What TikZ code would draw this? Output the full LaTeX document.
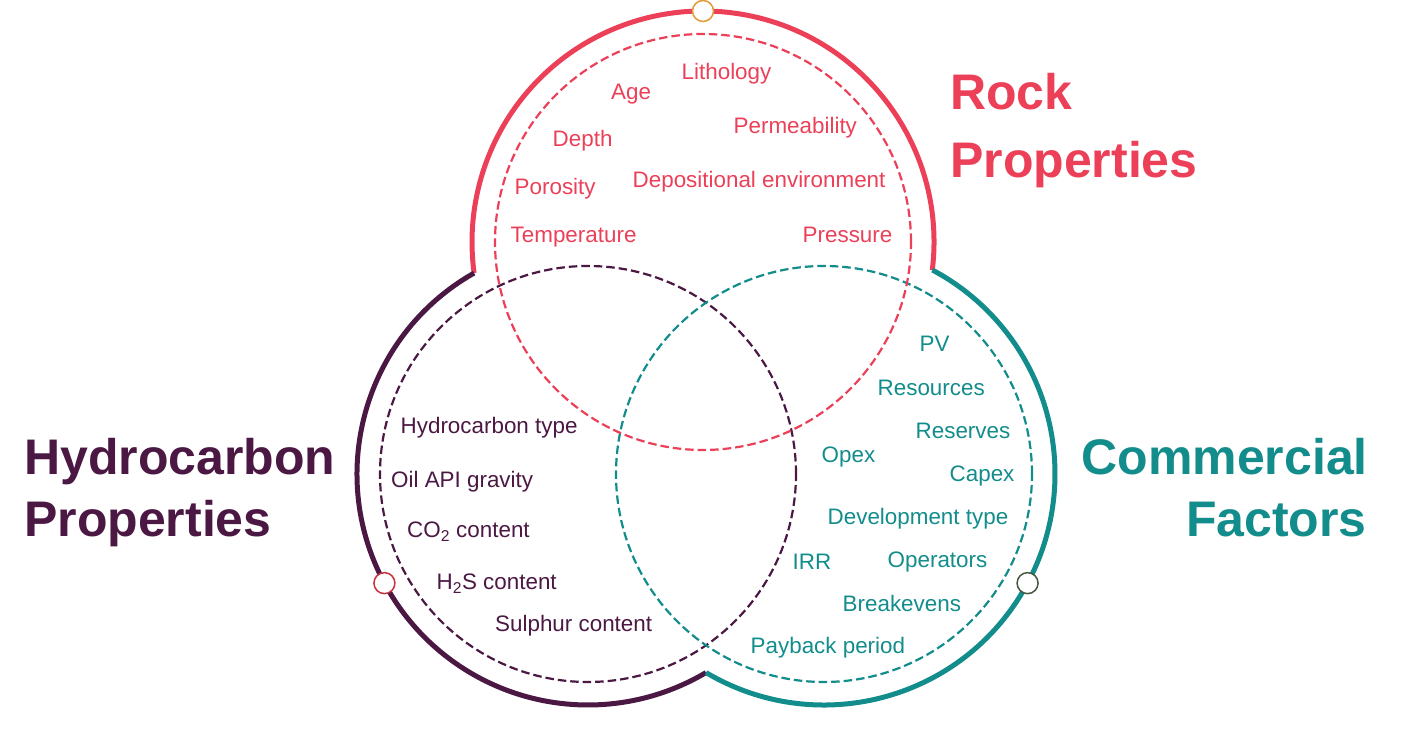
\documentclass[tikz,border=0pt]{standalone}
\usepackage{fontspec}
\setmainfont{Liberation Sans}
\definecolor{rockred}{HTML}{EC4059}
\definecolor{hcpurple}{HTML}{4B1843}
\definecolor{comteal}{HTML}{138C8C}
\definecolor{dotorange}{HTML}{E59A3A}
\definecolor{dotred}{HTML}{C8323C}
\definecolor{dotgreen}{HTML}{46583F}
\tikzset{
  outerring/.style={line width=5pt},
  dashring/.style={line width=2.2pt, dash pattern=on 8.5pt off 4pt},
  dotnode/.style={circle, minimum size=21pt, inner sep=0pt, fill=white, line width=1.5pt},
  lbl/.style={inner sep=0pt, anchor=base west, font=\fontsize{22.4}{27}\selectfont},
  ttl/.style={inner sep=0pt, font=\fontsize{50}{60}\selectfont\bfseries}
}
\begin{document}
\begin{tikzpicture}[x=1pt,y=1pt]
\useasboundingbox (0,0) rectangle (1424,738);
\coordinate (R) at (703,496);
\coordinate (P) at (588,264);
\coordinate (T) at (824,264);
% outer solid arcs
\draw[outerring, rockred] (R) ++(-7.0:231pt) arc[start angle=-7.0, end angle=187.7, radius=231pt];
\draw[outerring, hcpurple] (P) ++(119.55:231pt) arc[start angle=119.55, end angle=300.7, radius=231pt];
\draw[outerring, comteal] (T) ++(239.3:231pt) arc[start angle=239.3, end angle=422.0, radius=231pt];
% dashed inner circles
\draw[dashring, hcpurple] (P) circle[radius=208pt];
\draw[dashring, comteal] (T) circle[radius=208pt];
\draw[dashring, rockred] (R) circle[radius=208pt];
% small circles on the rings
\path (R) ++(90:231pt) node[dotnode, draw=dotorange] (dtop) {};
\path (P) ++(208.2:231pt) node[dotnode, draw=dotred] (dleft) {};
\path (T) ++(-28.2:231pt) node[dotnode, draw=dotgreen] (dright) {};
% titles
\node[ttl, anchor=base west, text=rockred] (t1a) at (950,628) {Rock};
\node[ttl, anchor=base west, text=rockred] (t1b) at (950,560) {Properties};
\node[ttl, anchor=base west, text=hcpurple] (t2a) at (24,263) {Hydrocarbon};
\node[ttl, anchor=base west, text=hcpurple] (t2b) at (24,201) {Properties};
\node[ttl, anchor=base east, text=comteal] (t3a) at (1368,263) {Commercial};
\node[ttl, anchor=base east, text=comteal] (t3b) at (1367,201) {Factors};
% rock labels
\begin{scope}[every node/.style={lbl, text=rockred}]
\node (r1) at (681.5,658) {Lithology};
\node (r2) at (611,638) {Age};
\node (r3) at (733.5,604) {Permeability};
\node (r4) at (552.5,591) {Depth};
\node (r5) at (632.5,550) {Depositional environment};
\node (r6) at (514.5,543) {Porosity};
\node (r7) at (510.5,495) {Temperature};
\node (r8) at (802.5,495) {Pressure};
\end{scope}
% hydrocarbon labels
\begin{scope}[every node/.style={lbl, text=hcpurple}]
\node (h1) at (400.5,304) {Hydrocarbon type};
\node (h2) at (391,250) {Oil API gravity};
\node (h3) at (407,200) {CO\textsubscript{2} content};
\node (h4) at (436.5,148) {H\textsubscript{2}S content};
\node (h5) at (495,106) {Sulphur content};
\end{scope}
% commercial labels
\begin{scope}[every node/.style={lbl, text=comteal}]
\node (c1) at (919.5,386) {PV};
\node (c2) at (877.5,342) {Resources};
\node (c3) at (915.5,299) {Reserves};
\node (c4) at (821.5,275) {Opex};
\node (c5) at (949.5,256) {Capex};
\node (c6) at (827.5,213) {Development type};
\node (c7) at (792.5,168) {IRR};
\node (c8) at (887.5,170) {Operators};
\node (c9) at (842.5,126) {Breakevens};
\node (c10) at (750.5,84) {Payback period};
\end{scope}
\end{tikzpicture}
\end{document}
